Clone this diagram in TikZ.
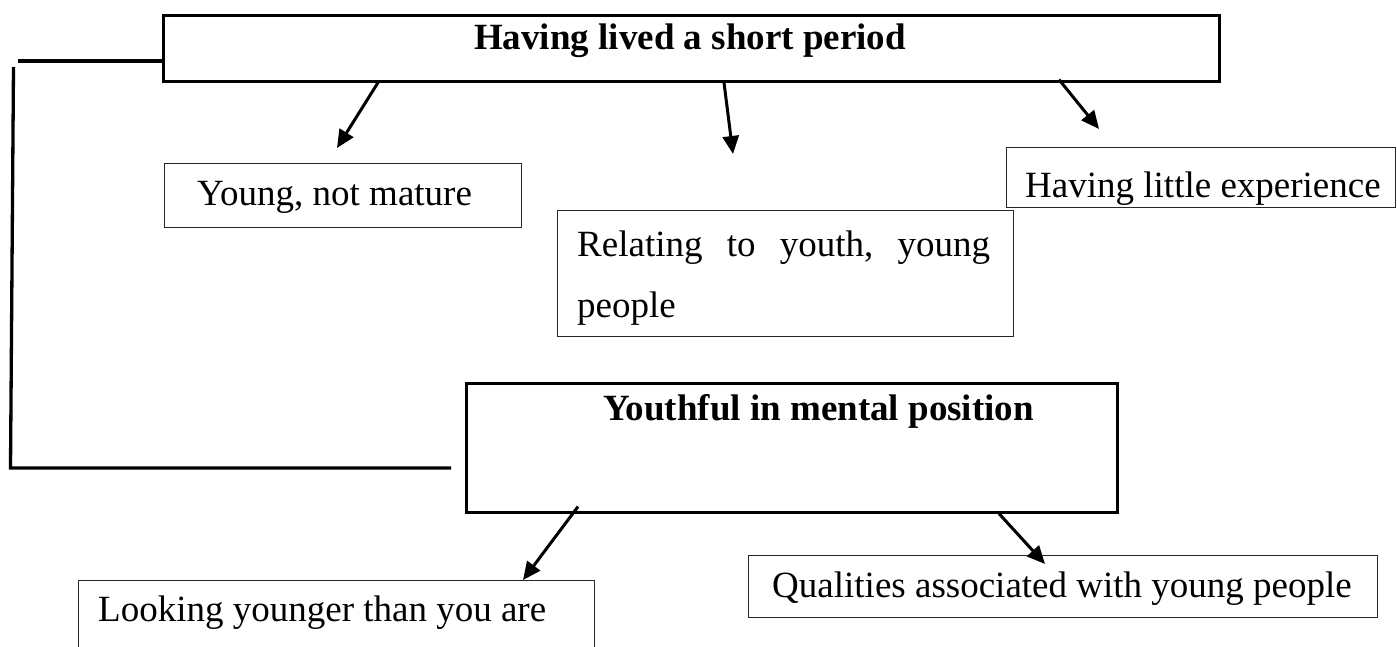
\documentclass[tikz,border=0pt]{standalone}
\usepackage{fontspec}
\setmainfont{Liberation Serif}
\usetikzlibrary{arrows.meta}
\begin{document}
\begin{tikzpicture}[x=1pt,y=-1pt,
  thickbox/.style={draw=black, line width=2.6pt, inner sep=0pt, anchor=north west},
  thinbox/.style={draw=black!85, line width=1.3pt, inner sep=0pt, anchor=north west},
  txt/.style={inner sep=0pt, anchor=base west, font=\fontsize{37}{44}\selectfont},
  btxt/.style={inner sep=0pt, anchor=base, font=\fontsize{37}{44}\selectfont\bfseries},
  arr/.style={line width=3pt, -{Triangle[length=18pt,width=16pt]}},
  brk/.style={line width=3.3pt}]
\useasboundingbox (0,0) rectangle (1397,646);
\clip (0,0) rectangle (1397,646);

% boxes
\node[thickbox, minimum width=1056pt, minimum height=66pt] (top) at (162,14) {};
\node[thinbox, minimum width=357pt, minimum height=64pt] (young) at (164,163) {};
\node[thinbox, minimum width=389pt, minimum height=60pt] (little) at (1006,147) {};
\node[thinbox, minimum width=456pt, minimum height=126pt] (relating) at (557,210) {};
\node[thickbox, minimum width=651pt, minimum height=129pt] (yb) at (465,382) {};
\node[thinbox, minimum width=516pt, minimum height=120pt] (looking) at (78,580) {};
\node[thinbox, minimum width=629pt, minimum height=62pt] (qual) at (748,555) {};

% texts
\node[btxt] (ttop) at (690,49) {Having lived a short period};
\node[txt] (tyoung) at (197,205) {Young, not mature};
\node[txt] (tlittle) at (1025,197) {Having little experience};
\node[txt] (trel1) at (577,256) {\hbox to 413pt{Relating\hfill to\hfill youth,\hfill young}};
\node[txt] (trel2) at (577,317) {people};
\node[btxt, anchor=base west] (tyb) at (603,420) {Youthful in mental position};
\node[txt] (tlook) at (98,621) {Looking younger than you are};
\node[btxt, font=\fontsize{37}{44}\selectfont] (tqual) at (1062,597) {Qualities associated with young people};

% arrow end points
\coordinate (a1e) at (337,148);
\coordinate (a2e) at (733,154);
\coordinate (a3e) at (1099,129);
\coordinate (a4e) at (523,580);
\coordinate (a5e) at (1045,564);

\draw[arr] ([xshift=216pt]top.south west) -- (a1e);
\draw[arr] ([xshift=562pt]top.south west) -- (a2e);
\draw[arr] ([xshift=897pt,yshift=3pt]top.south west) -- (a3e);
\draw[arr] ([xshift=113pt,yshift=7pt]yb.south west) -- (a4e);
\draw[arr] ([xshift=534pt]yb.south west) -- (a5e);

% bracket
\coordinate (bt) at (18,61);
\coordinate (bv1) at (13.5,67);
\coordinate (bv2) at (10.5,468);
\coordinate (bb) at (451,468);
\draw[brk] (bt) -- (top.south west |- bt);
\draw[brk] (bv1) -- (bv2) -- (bb);
\end{tikzpicture}
\end{document}
